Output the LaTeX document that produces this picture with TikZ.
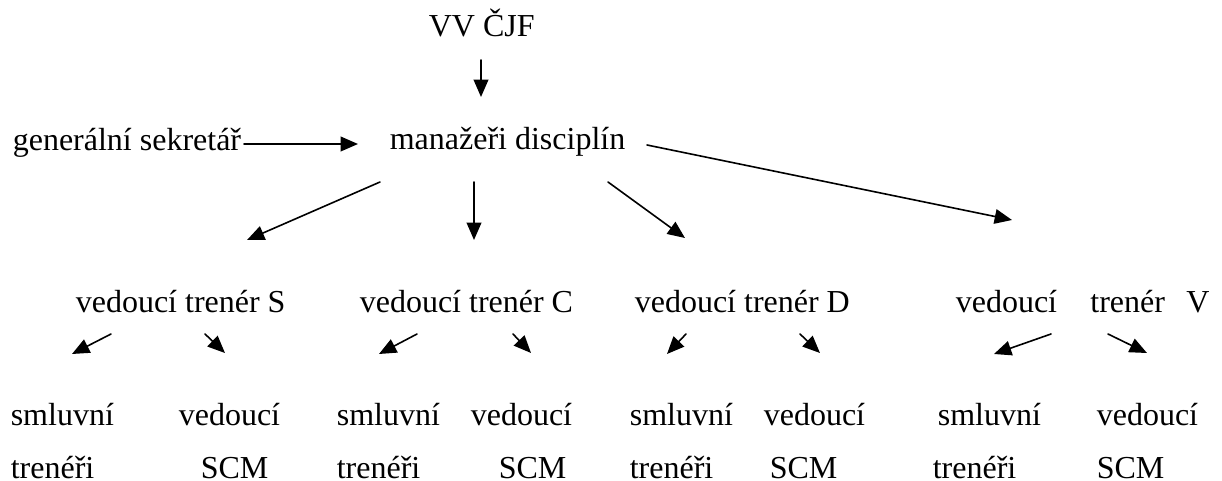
\documentclass[tikz,border=0pt]{standalone}
\usepackage{fontspec}
\setmainfont{Liberation Serif}
\usetikzlibrary{arrows.meta}
\begin{document}
\begin{tikzpicture}[x=0.375pt, y=-0.375pt, line join=round, line cap=round, line width=0.6pt,
	>={Triangle[length=6.5pt,width=5.5pt]},
	every node/.style={inner sep=0pt, anchor=base west, font=\fontsize{12}{14}\selectfont}]
	\useasboundingbox (0,0) rectangle (1222,481);
	% top rows
	\node (vv) at (428,37) {VV ČJF};
	\node (gs) at (12,151) {generální sekretář};
	\node (md) at (389,150) {manažeři disciplín};
	% vedoucí trenéři
	\node (vtS) at (75,313) {vedoucí trenér S};
	\node (vtC) at (359,313) {vedoucí trenér C};
	\node (vtD) at (634,313) {vedoucí trenér D};
	\node (vtV) at (955,313) {vedoucí\hspace{12.5pt}trenér\hspace{8pt}V};
	% bottom rows
	\foreach \g/\a/\b/\c/\d in {S/10/10/178/200, C/336/336/470/498, D/629/629/763/769, V/937/932/1096/1096}{
		\node (sm\g) at (\a,425) {smluvní};
		\node (tr\g) at (\b,478) {trenéři};
		\node (ve\g) at (\c,425) {vedoucí};
		\node (scm\g) at (\d,478) {SCM};
	}
	% arrow ends
	\coordinate (vvA) at (481,60);    \coordinate (vvB) at (481,97);
	\coordinate (gsA) at (244,144);   \coordinate (gsB) at (358,144);
	\coordinate (mdSA) at (380,182);  \coordinate (mdSB) at (247,240);
	\coordinate (mdCA) at (474,182);  \coordinate (mdCB) at (474,240);
	\coordinate (mdDA) at (608,182);  \coordinate (mdDB) at (685,238);
	\coordinate (mdVA) at (647,145);  \coordinate (mdVB) at (1012,220);
	\foreach \g/\la/\lb/\ra/\rb in {S/111/72/205/225, C/417/379/513/531, D/686/667/800/820, V/1051/994/1108/1147}{
		\coordinate (l\g A) at (\la,334); \coordinate (l\g B) at (\lb,354);
		\coordinate (r\g A) at (\ra,334); \coordinate (r\g B) at (\rb,353);
		\draw[->] (l\g A)--(l\g B);
		\draw[->] (r\g A)--(r\g B);
	}
	\draw[->] (vvA)--(vvB);
	\draw[->] (gsA)--(gsB);
	\draw[->] (mdSA)--(mdSB);
	\draw[->] (mdCA)--(mdCB);
	\draw[->] (mdDA)--(mdDB);
	\draw[->] (mdVA)--(mdVB);
\end{tikzpicture}
\end{document}
